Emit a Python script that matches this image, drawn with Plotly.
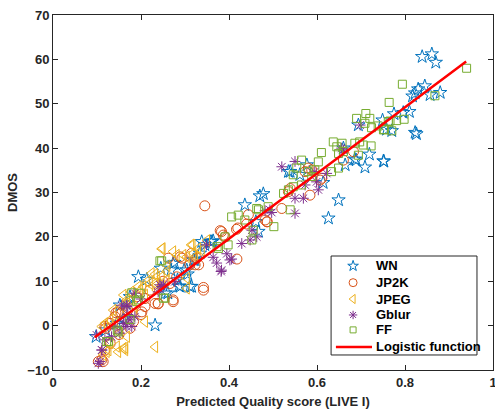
import plotly.graph_objects as go

# ---------------- data ----------------
wn_x = [0.839,0.861,0.870,0.817,0.823,0.830,0.845,0.857,0.880,0.775,0.796,0.810,0.823,0.826,0.749,0.758,0.770,0.694,0.719,0.686,0.709,0.751,0.660,0.664,0.535,0.577,0.614,0.649,0.626,0.689,0.752,0.539,0.561,0.470,0.478,0.436,0.467,0.461,0.358,0.364,0.304,0.319,0.315,0.245,0.268,0.276,0.298,0.306,0.311,0.286,0.261,0.232,0.338,0.361,0.323,0.283,0.213,0.152,0.167,0.098,0.145,0.194,0.120,0.160,0.175,0.273,0.345,0.334,0.289,0.255]
wn_y = [60.6,61.2,59.3,51.7,52.4,53.3,54.0,52.0,52.5,47.7,48.0,48.2,43.5,43.2,46.3,44.2,43.9,45.2,38.6,37.5,35.7,37.1,40.0,36.2,34.7,36.2,32.2,28.3,24.2,37.3,37.0,34.7,34.0,29.2,29.7,27.2,21.2,23.4,18.9,19.1,12.5,14.8,8.8,12.9,12.5,14.2,12.5,11.6,8.8,8.9,7.3,0.1,18.9,18.9,14.8,10.3,10.4,4.6,5.0,-2.5,0.5,11.0,-1.0,1.5,6.5,14.0,18.2,16.3,8.8,7.3]

jp2k_x = [0.383,0.417,0.444,0.486,0.440,0.418,0.331,0.293,0.273,0.239,0.209,0.156,0.141,0.118,0.114,0.130,0.262,0.289,0.311,0.327,0.232,0.209,0.143,0.120,0.103,0.266,0.281,0.380,0.387,0.482,0.487,0.535,0.539,0.342,0.323,0.345,0.573,0.580,0.588,0.607,0.611,0.584,0.520,0.660,0.683,0.170,0.190,0.220,0.150,0.250,0.200,0.420,0.130,0.148,0.202,0.239,0.118,0.111,0.183,0.175,0.342,0.273,0.391,0.315]
jp2k_y = [21.2,21.7,25.0,23.4,22.9,15.0,13.7,15.2,5.4,4.9,4.3,2.8,2.0,-0.2,-8.1,0.5,15.2,15.5,13.7,15.2,5.0,6.1,2.9,-0.6,-8.1,9.5,11.0,21.4,20.4,23.8,23.4,30.2,30.9,8.6,13.7,27.0,34.7,35.5,35.1,32.8,33.2,29.4,26.4,37.3,39.2,3.5,6.5,8.0,-2.0,10.0,2.5,22.0,-4.0,3.1,3.1,5.0,-5.5,-7.7,0.9,-0.6,8.0,5.8,20.0,16.3]

jpeg_x = [0.247,0.273,0.296,0.314,0.323,0.338,0.304,0.247,0.232,0.213,0.194,0.177,0.168,0.156,0.111,0.130,0.145,0.164,0.122,0.232,0.209,0.249,0.317,0.330,0.281,0.304,0.220,0.205,0.179,0.137,0.130,0.118,0.209,0.232,0.114,0.185,0.260,0.350,0.160,0.198,0.236,0.258,0.164,0.183,0.141,0.152,0.168,0.160,0.126,0.148,0.164,0.319,0.224,0.239,0.258,0.236,0.304]
jpeg_y = [17.3,16.7,15.9,18.2,15.5,17.0,8.4,11.0,9.5,9.9,8.8,7.6,5.8,4.3,-0.2,-3.9,-4.7,-5.0,-5.9,11.6,6.9,17.4,18.2,17.4,15.9,15.5,9.5,8.8,5.8,3.5,1.3,0.5,0.9,-4.8,-6.6,3.0,13.5,19.2,6.9,8.0,11.0,12.2,5.0,4.3,0.5,-1.7,-2.5,-5.1,-5.5,-5.9,-5.5,16.3,11.8,9.5,10.3,8.0,10.7]

gblur_x = [0.382,0.364,0.395,0.406,0.372,0.349,0.429,0.452,0.448,0.463,0.482,0.497,0.277,0.247,0.186,0.156,0.168,0.186,0.164,0.141,0.133,0.111,0.103,0.099,0.152,0.179,0.550,0.520,0.595,0.599,0.573,0.603,0.550,0.569,0.550,0.698,0.656,0.660,0.622,0.383,0.493,0.170,0.200,0.168,0.160,0.168,0.175,0.118,0.111,0.107,0.243,0.402,0.251,0.239]
gblur_y = [12.2,15.4,16.2,15.0,14.1,18.2,18.5,21.5,19.3,20.0,25.9,25.5,9.9,8.8,7.3,4.6,4.3,2.0,0.5,-0.2,-2.5,-5.5,-8.5,-2.1,-1.7,-0.2,37.0,35.8,34.7,32.4,31.7,30.6,28.7,28.7,25.3,45.2,40.0,39.6,34.3,12.5,26.1,2.5,6.0,4.6,0.5,-0.2,1.3,-3.2,-5.5,-8.1,9.2,14.8,9.2,7.6]

ff_x = [0.940,0.794,0.764,0.868,0.751,0.770,0.781,0.798,0.762,0.690,0.711,0.720,0.709,0.724,0.739,0.753,0.637,0.645,0.657,0.660,0.649,0.686,0.697,0.705,0.723,0.694,0.610,0.603,0.565,0.554,0.546,0.580,0.588,0.595,0.633,0.649,0.565,0.539,0.406,0.421,0.436,0.463,0.489,0.502,0.524,0.535,0.546,0.391,0.373,0.452,0.247,0.255,0.398,0.455,0.467,0.175,0.126,0.194,0.243,0.179,0.146,0.766,0.198,0.190,0.251,0.148,0.122,0.376]
ff_y = [58.0,54.4,50.3,51.8,44.1,43.9,46.2,46.5,46.0,46.7,47.8,46.7,45.6,44.6,45.0,44.2,41.4,40.3,41.1,39.2,38.8,41.1,41.4,40.7,40.5,38.4,39.0,36.9,37.3,35.5,34.0,34.7,33.6,35.1,34.7,35.5,31.7,26.1,24.5,24.9,23.8,26.4,26.8,22.3,29.8,30.6,31.3,20.0,17.8,19.3,14.6,6.2,18.2,21.5,26.1,1.4,-3.6,5.8,14.6,7.4,-1.0,46.1,7.3,5.4,6.2,-1.4,-3.6,17.4]

fit_x = [0.095,0.2,0.3,0.4,0.5,0.6,0.7,0.8,0.939]
fit_y = [-2.6,4.8,12.2,19.6,27.0,34.3,41.7,49.2,59.5]

x_ticks = [0, 0.2, 0.4, 0.6, 0.8, 1]
x_tick_labels = ["0", "0.2", "0.4", "0.6", "0.8", "1"]
y_ticks = [-10, 0, 10, 20, 30, 40, 50, 60, 70]

series_names = ["WN", "JP2K", "JPEG", "Gblur", "FF"]
fit_name = "Logistic function"

# ---------------- figure ----------------
FONT = "Liberation Sans, Arial, Helvetica, sans-serif"
AX = "#262626"

fig = go.Figure()
series = [
    (series_names[0], wn_x, wn_y, "star-open", "#0072BD", 10),
    (series_names[1], jp2k_x, jp2k_y, "circle-open", "#D95319", 10),
    (series_names[2], jpeg_x, jpeg_y, "triangle-left-open", "#EDB120", 10),
    (series_names[3], gblur_x, gblur_y, "asterisk-open", "#7E2F8E", 9),
    (series_names[4], ff_x, ff_y, "square-open", "#77AC30", 8),
]
for name, xs, ys, sym, col, sz in series:
    fig.add_trace(go.Scatter(
        x=xs, y=ys, mode="markers", name=name, showlegend=False,
        marker=dict(symbol=sym, color=col, size=sz, line=dict(color=col, width=1)),
    ))
fig.add_trace(go.Scatter(
    x=fit_x, y=fit_y, mode="lines", name=fit_name, showlegend=False,
    line=dict(color="#FF0000", width=2.5, shape="spline"),
))

# ---- legend box drawn on an overlay axis (0..1 over the plot area) ----
leg_rows = [0.293, 0.246, 0.200, 0.155, 0.113, 0.065]
leg_mx = 0.682
leg_tx = 0.7295
for i, (name, xs, ys, sym, col, sz) in enumerate(series):
    fig.add_trace(go.Scatter(
        x=[leg_mx], y=[leg_rows[i]], mode="markers", xaxis="x2", yaxis="y2",
        showlegend=False, hoverinfo="skip",
        marker=dict(symbol=sym, color=col, size=sz - 2, line=dict(color=col, width=1)),
    ))
fig.add_trace(go.Scatter(
    x=[0.643, 0.725], y=[leg_rows[5], leg_rows[5]], mode="lines", xaxis="x2", yaxis="y2",
    showlegend=False, hoverinfo="skip", line=dict(color="#FF0000", width=2.5),
))
fig.add_shape(type="rect", xref="paper", yref="paper", x0=0.632, x1=0.9636, y0=0.0423, y1=0.3211,
              line=dict(color=AX, width=1), fillcolor="white", layer="below")
for i, name in enumerate(series_names + [fit_name]):
    fig.add_annotation(x=leg_tx, y=leg_rows[i], xref="paper", yref="paper", text=name,
                       showarrow=False, xanchor="left", yanchor="middle",
                       font=dict(family=FONT, size=13, color="black", weight="bold"))

title_font = dict(family=FONT, size=13, color=AX, weight="bold")
axis_common = dict(
    showgrid=False, zeroline=False, showline=True, linecolor=AX, linewidth=1,
    mirror="ticks", ticks="inside", ticklen=5, tickcolor=AX,
    tickfont=dict(family=FONT, size=13, color=AX, weight="bold"),
    ticklabeloverflow="allow",
)

fig.update_layout(
    width=495, height=413,
    margin=dict(l=53, r=2, t=15, b=43, autoexpand=False),
    paper_bgcolor="white", plot_bgcolor="white",
    showlegend=False,
    xaxis=dict(range=[0, 1], tickvals=x_ticks, ticktext=x_tick_labels,
               title=dict(text="Predicted Quality score (LIVE I)", standoff=8, font=title_font),
               **axis_common),
    yaxis=dict(range=[-10, 70], tickvals=y_ticks,
               title=dict(text="DMOS", standoff=6, font=title_font),
               **axis_common),
    xaxis2=dict(overlaying="x", range=[0, 1], visible=False, anchor="y2"),
    yaxis2=dict(overlaying="y", range=[0, 1], visible=False, anchor="x2"),
)

fig.write_html("out.html", config={"displayModeBar": False},
               post_script="document.body.style.margin='0';")
